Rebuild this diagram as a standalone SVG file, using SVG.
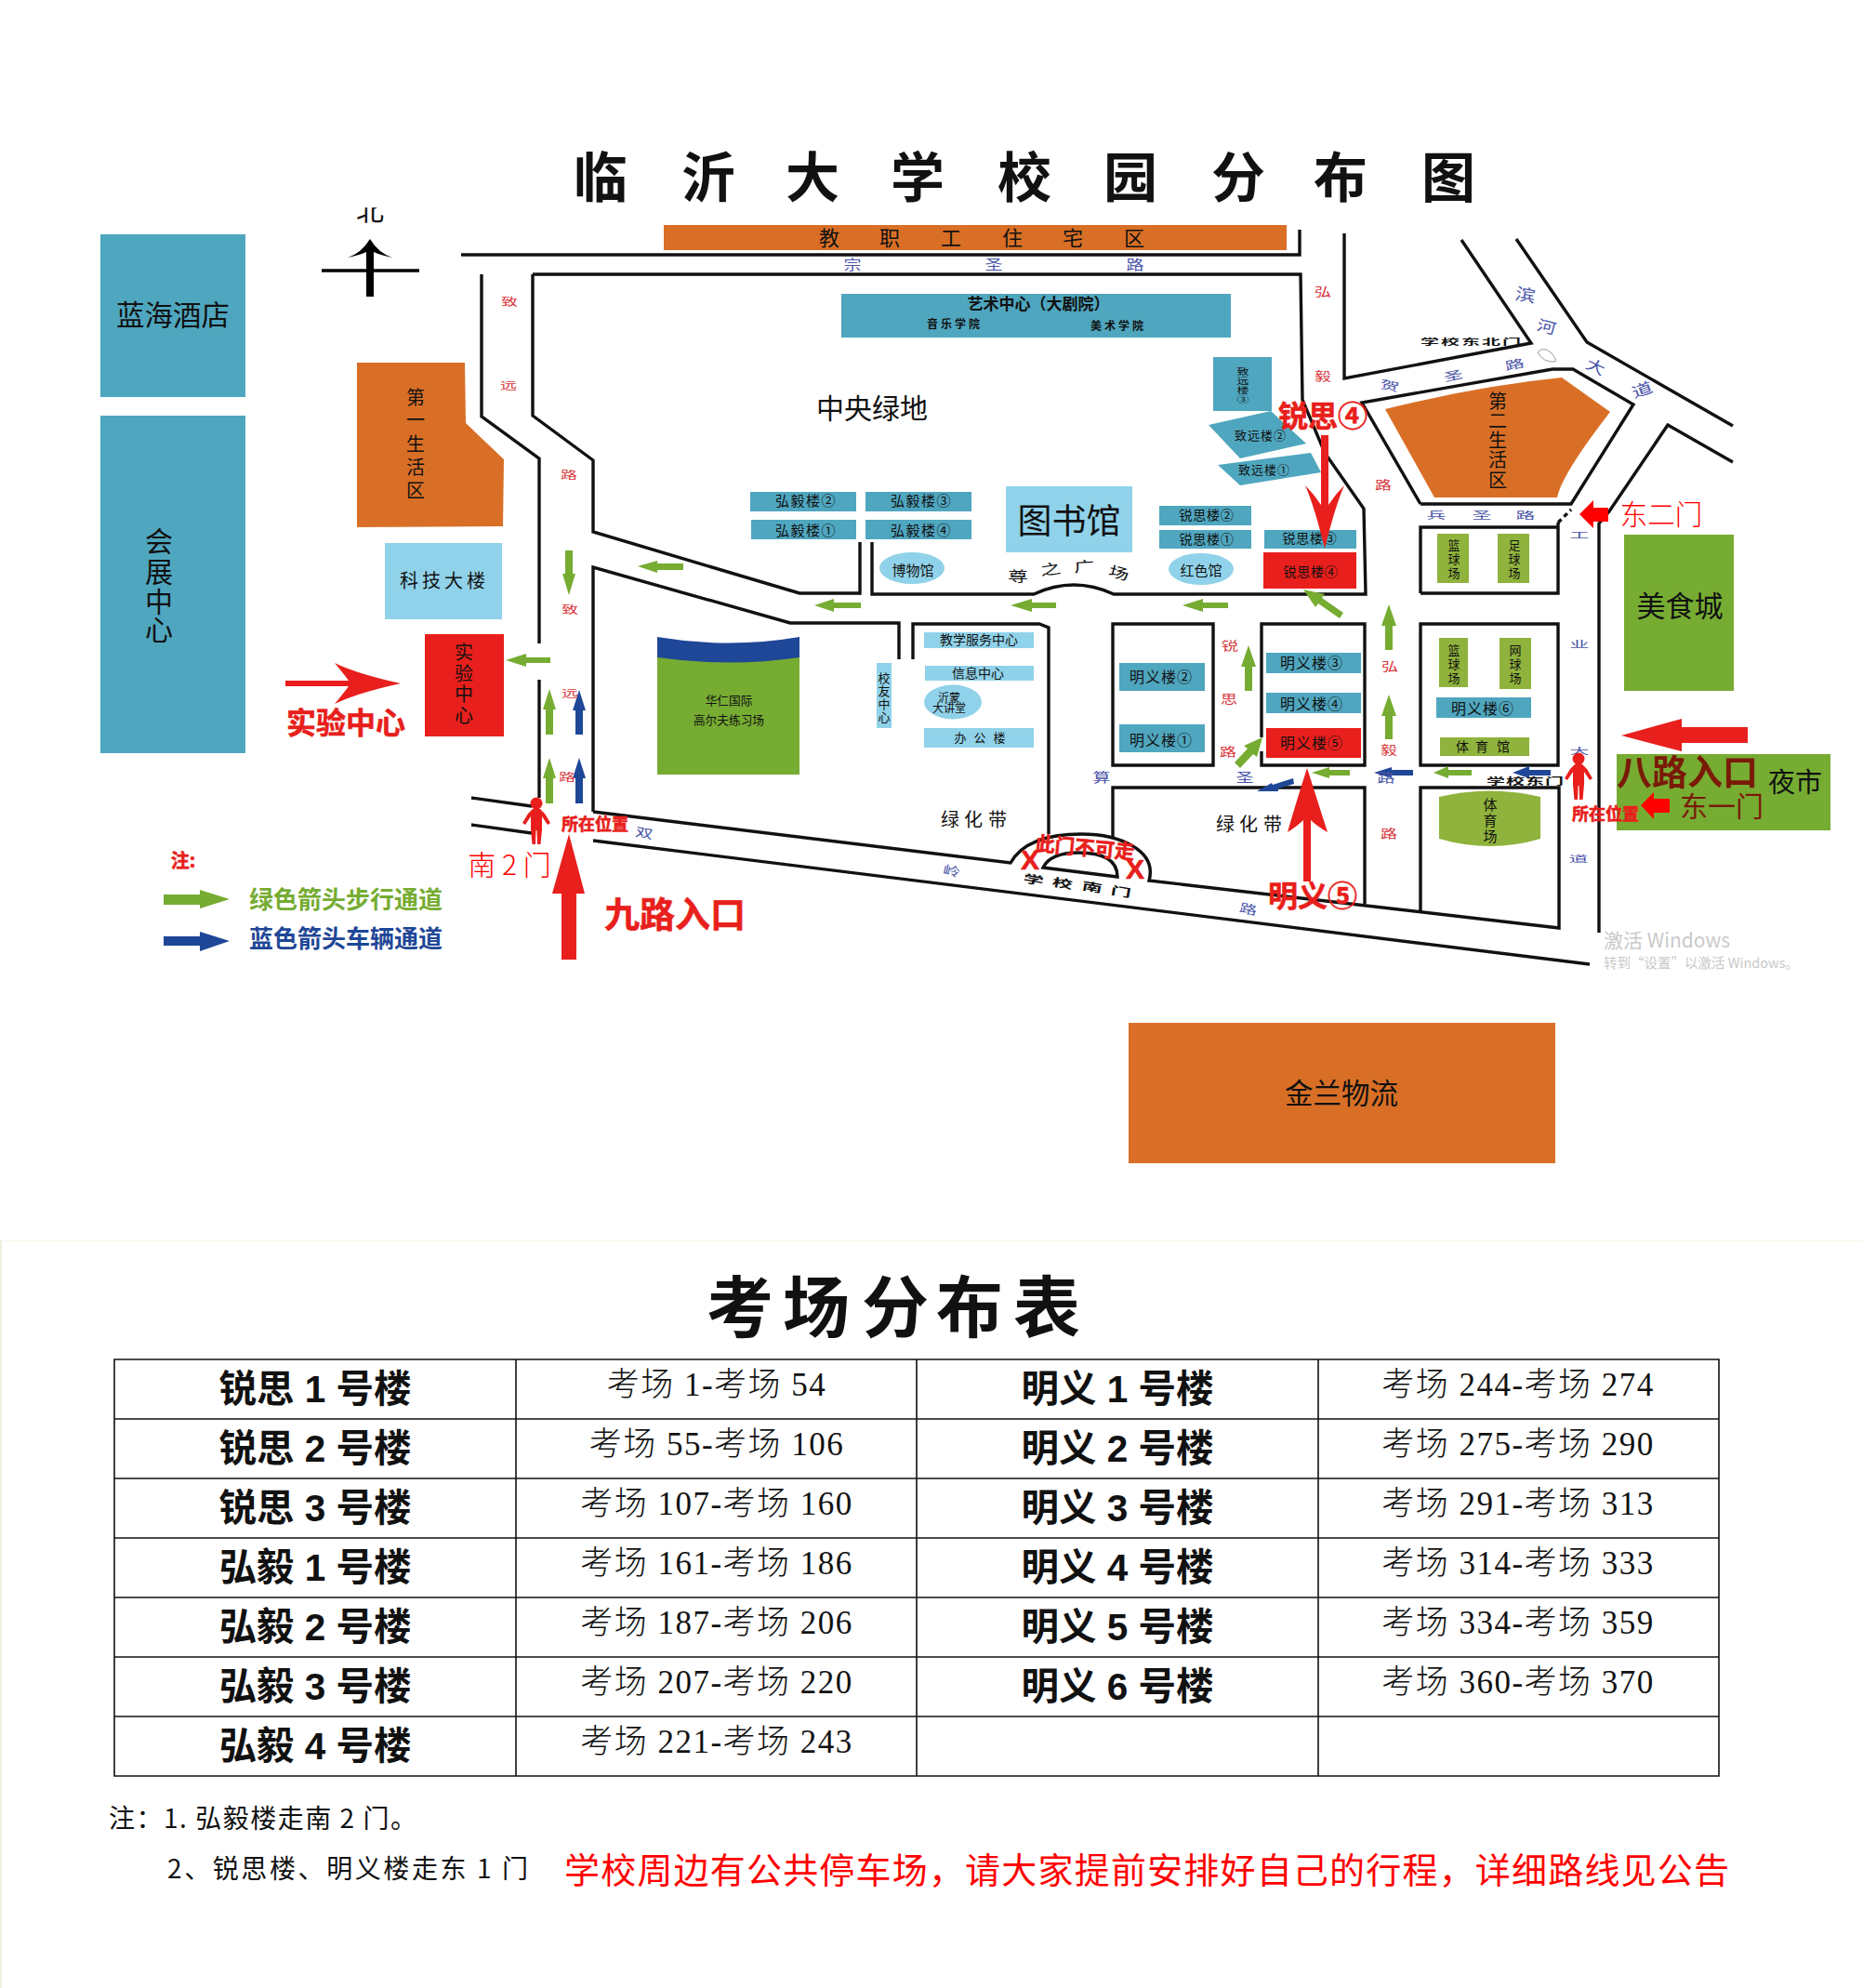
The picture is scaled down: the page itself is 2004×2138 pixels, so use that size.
<svg xmlns="http://www.w3.org/2000/svg" width="2004" height="2138" viewBox="0 0 2004 2138">
<style>
text{font-family:"Noto Sans CJK SC",sans-serif;text-anchor:middle;dominant-baseline:central;fill:#111}
text:not([transform]){transform:translateY(-.06em)}
text.nm{transform:translateY(1px)}
text.rg{transform:translateY(2px)}
.b{font-weight:700}
.l{font-weight:300}
.teal{fill:#4fa6bf}.sky{fill:#90d2e9}.org{fill:#d96f26}.grn{fill:#76ac32}.olv{fill:#8fb33c}.red{fill:#e81f1c}.blu{fill:#1f4797}
.pg{fill:#76ac32}.pb{fill:#1f4797}.pr{fill:#e81f1c}.pf{fill:#f00}
.road{fill:none;stroke:#111;stroke-width:3.4;stroke-miterlimit:6}
.tbl{stroke:#111;stroke-width:1.6;fill:none}
.rd{fill:#d8353a;font-size:18px}
.bl{fill:#4a55a8;font-size:19px}
.s13{font-size:13px}.s14{font-size:14px}.s15{font-size:15px}.s20{font-size:20px}
.hy{font-size:15px;letter-spacing:1.5px}.rs{font-size:14px;letter-spacing:.7px}.my{font-size:16px;letter-spacing:1px}.zy{font-size:13px;letter-spacing:1px}
.rr{fill:#e81f1c;font-weight:700;stroke:#e81f1c;stroke-width:.6}
.nm{font-family:"Liberation Sans","Noto Sans CJK SC",sans-serif;font-weight:700;font-size:40.5px}
.rg{font-family:"Liberation Serif","Noto Sans CJK SC",serif;font-size:35px;font-weight:300;letter-spacing:1.5px}
</style>
<defs>
<clipPath id="cn"><rect x="370" y="225" width="60" height="20"/></clipPath>
<g id="person"><circle cx="0" cy="6" r="6.5"/><path d="M-4 12Q0 10 4 12L9 17L15 27L12 29L6 20L6 34L4.5 50L1 50L.5 35L-.5 35L-1 50L-4.5 50L-6 34L-6 20L-12 29L-15 27L-9 17Z"/></g>
</defs>
<rect width="2004" height="2138" fill="#fff"/>
<path d="M0 1334.5H2004" stroke="#f6f8ec" stroke-width="1.5" fill="none"/>
<path d="M.8 1334V2138" stroke="#e6efd6" stroke-width="1.6" fill="none"/>

<g id="title"><text class="b" font-size="58" y="190" x="646 762 874 987 1102 1216 1332 1442 1558">临沂大学校园分布图</text></g>

<g id="north">
<text font-size="30" x="398" y="226" clip-path="url(#cn)">北</text>
<path d="M346 291H451" stroke="#000" stroke-width="3.5" fill="none"/>
<path d="M398 257Q407 272 422 277Q408 274 402 271V319H394V271Q388 274 374 277Q389 272 398 257Z" fill="#000"/>
</g>

<g id="hotel"><rect class="teal" x="108" y="252" width="156" height="175"/><text font-size="30.5" x="186" y="339">蓝海酒店</text></g>
<g id="expo"><rect class="teal" x="108" y="447" width="156" height="363"/><text font-size="30" x="171" y="582">会</text><text font-size="30" x="171" y="615">展</text><text font-size="30" x="171" y="647">中</text><text font-size="30" x="171" y="677">心</text></g>
<g id="housing"><rect class="org" x="714" y="242" width="670" height="27"/><text font-size="22" y="255" x="892 957 1023 1089 1154 1220">教职工住宅区</text></g>
<g id="life1"><path class="org" d="M384 390H500L501 455L542 494L541 566L384 567Z"/><text class="s20" x="447" y="428">第</text><text class="s20" x="447" y="452">一</text><text class="s20" x="447" y="478">生</text><text class="s20" x="447" y="503">活</text><text class="s20" x="447" y="528">区</text></g>
<g id="life2"><path class="org" d="M1490 440Q1590 415 1680 406L1732 443Q1680 510 1675 535H1543Z"/><text class="s20" x="1611" y="432">第</text><text class="s20" x="1611" y="453">二</text><text class="s20" x="1611" y="474">生</text><text class="s20" x="1611" y="495">活</text><text class="s20" x="1611" y="517">区</text></g>
<g id="tech"><rect class="sky" x="414" y="584" width="126" height="82"/><text class="s20" letter-spacing="4" x="478" y="625">科技大楼</text></g>
<g id="lab"><rect class="red" x="457" y="682" width="85" height="110"/><text class="s20" x="499" y="702">实</text><text class="s20" x="499" y="725">验</text><text class="s20" x="499" y="747">中</text><text class="s20" x="499" y="770">心</text></g>
<g id="art"><rect class="teal" x="905" y="316" width="419" height="47"/><text class="b" font-size="17" x="1117" y="327">艺术中心（大剧院）</text><text class="b" font-size="12" letter-spacing="3" x="1027" y="348">音乐学院</text><text class="b" font-size="12" letter-spacing="3" x="1203" y="350">美术学院</text></g>
<g id="zy3"><rect class="teal" x="1305" y="384" width="63" height="58"/><text font-size="13" transform="translate(1337 399) scale(1 .72)">致</text><text font-size="13" transform="translate(1337 409) scale(1 .72)">远</text><text font-size="13" transform="translate(1337 419) scale(1 .72)">楼</text><text font-size="13" transform="translate(1337 429) scale(1 .72)">③</text></g>
<g id="zy2"><path class="teal" d="M1300 457L1367 442L1405 477L1334 493Z"/><text class="zy" x="1356" y="468">致远楼②</text></g>
<g id="zy1"><path class="teal" d="M1310 500L1410 487L1421 508L1334 522Z"/><text class="zy" x="1360" y="505">致远楼①</text></g>
<g id="hy2"><rect class="teal" x="807" y="529" width="114" height="21"/><text class="hy" x="867" y="538">弘毅楼②</text></g>
<g id="hy3"><rect class="teal" x="931" y="529" width="114" height="21"/><text class="hy" x="991" y="538">弘毅楼③</text></g>
<g id="hy1"><rect class="teal" x="808" y="559" width="113" height="21"/><text class="hy" x="867" y="570">弘毅楼①</text></g>
<g id="hy4"><rect class="teal" x="931" y="559" width="114" height="21"/><text class="hy" x="991" y="570">弘毅楼④</text></g>
<g id="library"><rect class="sky" x="1082" y="523" width="136" height="71"/><text font-size="37" x="1150" y="560">图书馆</text></g>
<g id="rs2"><rect class="teal" x="1247" y="544" width="99" height="21"/><text class="rs" x="1298" y="554">锐思楼②</text></g>
<g id="rs1"><rect class="teal" x="1247" y="570" width="99" height="20"/><text class="rs" x="1298" y="580">锐思楼①</text></g>
<g id="rs3"><rect class="teal" x="1360" y="570" width="99" height="20"/><text class="rs" x="1409" y="579">锐思楼③</text></g>
<g id="rs4"><rect class="red" x="1359" y="594" width="100" height="39"/><text class="rs" x="1410" y="615">锐思楼④</text></g>
<g id="museum"><ellipse class="sky" cx="981" cy="611" rx="35" ry="17"/><text class="s15" x="982" y="613">博物馆</text></g>
<g id="redhall"><ellipse class="sky" cx="1292" cy="612" rx="35" ry="17"/><text class="s15" x="1292" y="613">红色馆</text></g>
<g id="golf"><path class="grn" d="M707 705H860V833H707Z"/><path class="blu" d="M707 685Q784 698 860 685V707Q784 718 707 707Z"/><text font-size="12.7" x="784" y="753">华仁国际</text><text font-size="12.7" x="784" y="774">高尔夫练习场</text></g>
<g id="teach"><rect class="sky" x="994" y="680" width="118" height="17"/><text class="s14" x="1053" y="688">教学服务中心</text></g>
<g id="info"><rect class="sky" x="995" y="716" width="117" height="16"/><text class="s14" x="1052" y="724">信息中心</text></g>
<g id="yimeng"><ellipse class="sky" cx="1025" cy="755" rx="31" ry="18.5"/><text font-size="12" x="1021" y="750">沂蒙</text><text font-size="12" x="1021" y="761">大讲堂</text></g>
<g id="office"><rect class="sky" x="994" y="783" width="118" height="21"/><text class="s13" y="793" x="1033 1054 1075">办公楼</text></g>
<g id="alumni"><rect class="sky" x="943" y="713" width="16" height="70"/><text class="s13" x="951" y="729">校</text><text class="s13" x="951" y="743">友</text><text class="s13" x="951" y="757">中</text><text class="s13" x="951" y="771">心</text></g>
<g id="my2"><rect class="teal" x="1204" y="713" width="92" height="30"/><text class="my" x="1249" y="728">明义楼②</text></g>
<g id="my1"><rect class="teal" x="1204" y="779" width="92" height="30"/><text class="my" x="1249" y="796">明义楼①</text></g>
<g id="my3"><rect class="teal" x="1362" y="702" width="102" height="22"/><text class="my" x="1411" y="713">明义楼③</text></g>
<g id="my4"><rect class="teal" x="1362" y="745" width="102" height="22"/><text class="my" x="1411" y="757">明义楼④</text></g>
<g id="my5"><rect class="red" x="1362" y="783" width="102" height="32"/><text class="my" x="1411" y="799">明义楼⑤</text></g>
<g id="my6"><rect class="teal" x="1545" y="750" width="102" height="22"/><text class="my" x="1595" y="762">明义楼⑥</text></g>
<g id="court1"><rect class="olv" x="1546" y="574" width="34" height="53"/><text class="s13" x="1564" y="586">篮</text><text class="s13" x="1564" y="601">球</text><text class="s13" x="1564" y="616">场</text></g>
<g id="court2"><rect class="olv" x="1611" y="574" width="34" height="53"/><text class="s13" x="1629" y="586">足</text><text class="s13" x="1629" y="601">球</text><text class="s13" x="1629" y="616">场</text></g>
<g id="court3"><rect class="olv" x="1548" y="686" width="31" height="53"/><text class="s13" x="1564" y="699">篮</text><text class="s13" x="1564" y="714">球</text><text class="s13" x="1564" y="729">场</text></g>
<g id="court4"><rect class="olv" x="1613" y="686" width="34" height="55"/><text class="s13" x="1630" y="699">网</text><text class="s13" x="1630" y="714">球</text><text class="s13" x="1630" y="729">场</text></g>
<g id="gym"><rect class="olv" x="1549" y="793" width="96" height="20"/><text class="s14" y="803" x="1573 1594 1617">体育馆</text></g>
<g id="stadium"><path class="olv" d="M1548 857Q1603 844 1657 857V902Q1603 918 1548 902Z"/><text class="s15" x="1603" y="865">体</text><text class="s15" x="1603" y="882">育</text><text class="s15" x="1603" y="899">场</text></g>
<g id="food"><rect class="grn" x="1747" y="575" width="118" height="168"/><text font-size="31" x="1807" y="651">美食城</text></g>
<g id="night"><rect class="grn" x="1739" y="811" width="230" height="82"/><text class="b" font-size="38" x="1815" y="830" style="fill:#7a1a08">八路入口</text><text font-size="29" x="1931" y="841">夜市</text><text font-size="30" x="1852" y="867" style="fill:#7a1a08">东一门</text></g>
<g id="jinlan"><rect class="org" x="1214" y="1100" width="459" height="151"/><text font-size="30.5" x="1443" y="1176">金兰物流</text></g>

<g id="connectors">
<g class="roads">
<path class="road" d="M496 274H1398V247"/>
<path class="road" d="M573 295H1399L1401 430L1425 487L1467 547L1469 639H1198Q1155 619 1112 639H938V583"/>
<path class="road" d="M573 295V447L638 495V572L860 638H925V583"/>
<path class="road" d="M518 295V448L580 493V692M580 731V858"/>
<path class="road" d="M638 873V610L850 670H967V709"/>
<path class="road" d="M638 873L1087 928C1100 905 1130 897 1163 897C1205 897 1245 915 1236 947L1677 998V847H1528V981"/>
<path class="road" d="M982 709V671H1118L1128 675V897"/>
<path class="road" d="M1197 902V847H1468V972"/>
<path class="road" d="M1122 933Q1130 917 1160 917Q1202 917 1202 943Z"/>
<path class="road" d="M638 904L1710 1037M507 858L572 867M507 887L572 896"/>
<path class="road" d="M1197 671H1305V823H1197Z"/>
<path class="road" d="M1357 793V671H1468V823H1357V808"/>
<path class="road" d="M1528 638V567H1676M1528 638H1676V562M1528 671H1676V823H1528Z"/>
<path class="road" d="M1446 251V407L1647 369L1572 258"/>
<path class="road" d="M1528 542L1465 433L1670 397H1692L1757 435L1690 542H1528"/>
<path class="road" d="M1631 257L1707 368L1864 458M1864 497L1794 457L1731 550L1720 563V1003"/>
<path class="road" d="M1676 562L1690 548" stroke-dasharray="5 4"/>
<path d="M1654 379Q1660 372 1668 379Q1675 386 1673 389Q1660 390 1654 379Z" fill="none" stroke="#999" stroke-width="1"/>
</g>
<g class="arrows">
<polygon class="pg" points="686,609 707,603 707,606 735,606 735,613 707,613 707,616"/>
<polygon class="pg" points="876,651 897,644 897,648 926,648 926,654 897,654 897,658"/>
<polygon class="pg" points="1087,651 1110,644 1110,648 1136,648 1136,654 1110,654 1110,658"/>
<polygon class="pg" points="1272,651 1294,644 1294,648 1321,648 1321,654 1294,654 1294,658"/>
<polygon class="pg" points="544,710 566,703 566,707 592,707 592,713 566,713 566,717"/>
<polygon class="pg" points="1411,831 1430,825 1430,828 1452,828 1452,834 1430,834 1430,837"/>
<polygon class="pg" points="1542,831 1558,824 1558,828 1583,828 1583,834 1558,834 1558,837"/>
<polygon class="pb" points="1627,831 1645,824 1645,828 1668,828 1668,834 1645,834 1645,837"/>
<polygon class="pb" points="1478,831 1497,825 1497,828 1520,828 1520,834 1497,834 1497,837"/>
<polygon class="pg" points="612,640 605,617 608,617 608,592 616,592 616,617 619,617"/>
<polygon class="pg" points="591,741 598,763 595,763 595,790 587,790 587,763 584,763"/>
<polygon class="pg" points="591,815 598,837 595,837 595,864 587,864 587,837 584,837"/>
<polygon class="pb" points="623,742 630,764 627,764 627,790 619,790 619,764 616,764"/>
<polygon class="pb" points="623,815 630,837 627,837 627,864 619,864 619,837 616,837"/>
<polygon class="pg" points="1343,694 1351,717 1347,717 1347,743 1339,743 1339,717 1335,717"/>
<polygon class="pg" points="1494,650 1502,673 1498,673 1498,699 1490,699 1490,673 1486,673"/>
<polygon class="pg" points="1494,747 1502,770 1498,770 1498,795 1490,795 1490,770 1486,770"/>
<polygon class="pg" points="1402,634 1425,639 1422,643 1445,659 1441,665 1418,649 1415,653"/>
<polygon class="pg" points="1358,793 1352,814 1348,811 1334,826 1328,820 1342,805 1338,802"/>
<polygon class="pb" points="1352,851 1368,842 1369,844 1391,837 1392,843 1375,848 1375,851"/>
<polygon class="pf" points="1699,553 1714,538 1714,546 1730,546 1730,561 1714,561 1714,568"/>
<polygon class="pf" points="1765,866 1779,852 1779,859 1796,859 1796,874 1779,874 1779,881"/>
<polygon class="pr" points="1744,791 1809,773 1809,782 1880,782 1880,799 1809,799 1809,808"/>
<path class="pr" d="M431 735Q385 725 360 713Q370 725 375 732H307V738H375Q370 745 360 757Q385 745 431 735Z"/>
<polygon class="pr" points="612,897 629,961 620,961 620,1032 604,1032 604,961 594,961"/>
<path class="pr" d="M1406 826Q1420 870 1428 895Q1416 888 1410 882V948H1402V882Q1396 888 1385 895Q1392 870 1406 826Z"/>
<path class="pr" d="M1425 590Q1414 545 1404 522Q1414 532 1421 543V468H1429V543Q1436 532 1446 522Q1436 545 1425 590Z"/>
<polygon class="pg" points="247,967 215,957 215,962 176,962 176,973 215,973 215,977"/>
<polygon class="pb" points="247,1012 215,1002 215,1007 176,1007 176,1017 215,1017 215,1023"/>
</g>
</g>

<g id="persons">
<use href="#person" x="577" y="858" fill="#e81f1c"/>
<use href="#person" x="1698" y="810" fill="#e81f1c"/>
</g>

<g id="road-labels">
<text class="bl" transform="translate(917 284) scale(1 .75)">宗</text><text class="bl" transform="translate(1069 284) scale(1 .75)">圣</text><text class="bl" transform="translate(1221 284) scale(1 .75)">路</text>
<text class="rd" transform="translate(1423 312) scale(1 .7)">弘</text><text class="rd" transform="translate(1423 403) scale(1 .7)">毅</text><text class="rd" transform="translate(1488 520) scale(1 .7)">路</text>
<text class="rd" transform="translate(548 324) scale(1 .65)">致</text><text class="rd" transform="translate(547 414) scale(1 .65)">远</text><text class="rd" transform="translate(612 510) scale(1 .65)">路</text>
<text class="rd" transform="translate(613 655) scale(1 .65)">致</text><text class="rd" transform="translate(613 745) scale(1 .65)">远</text><text class="rd" transform="translate(610 835) scale(1 .65)">路</text>
<text class="rd" transform="translate(1323 693) scale(1 .7)">锐</text><text class="rd" transform="translate(1322 750) scale(1 .7)">思</text><text class="rd" transform="translate(1321 807) scale(1 .7)">路</text>
<text class="rd" transform="translate(1495 715) scale(1 .7)">弘</text><text class="rd" transform="translate(1494 805) scale(1 .7)">毅</text><text class="rd" transform="translate(1494 895) scale(1 .7)">路</text>
<text class="bl" transform="translate(1185 835) scale(1 .7)">算</text><text class="bl" transform="translate(1339 835) scale(1 .7)">圣</text><text class="bl" transform="translate(1491 835) scale(1 .7)">路</text>
<text font-size="18" transform="translate(1095 619) scale(1.2 .8)">尊</text><text font-size="22" transform="translate(1130 611) rotate(-8) scale(1 .7)">之</text><text font-size="22" transform="translate(1166 608) rotate(-3) scale(1 .7)">广</text><text font-size="22" transform="translate(1204 615) rotate(15) scale(1 .7)">场</text>
<text class="s20" y="882" x="1022 1047 1073">绿化带</text><text class="s20" y="887" x="1318 1343 1369">绿化带</text>
<text class="bl" transform="translate(693 895) rotate(10) scale(1 .7)">双</text><text class="bl" transform="translate(1024 936) rotate(12) scale(1 .7)">岭</text><text class="bl" transform="translate(1343 977) rotate(12) scale(1 .7)">路</text>
<text class="bl" transform="translate(1641 316) rotate(10) scale(1.15 .95)">滨</text><text class="bl" transform="translate(1664 350) rotate(15) scale(1.1 .85)">河</text><text class="bl" transform="translate(1717 393) rotate(25) scale(1.1 .85)">大</text><text class="bl" transform="translate(1766 418) rotate(-20) scale(1.2 .85)">道</text>
<text class="bl" transform="translate(1495 414) rotate(12) scale(1.1 .65)">贺</text><text class="bl" transform="translate(1563 403) rotate(-12) scale(1.1 .65)">圣</text><text class="bl" transform="translate(1629 391) rotate(-12) scale(1.1 .65)">路</text>
<text class="bl" transform="translate(1545 554) scale(1.1 .55)">兵</text><text class="bl" transform="translate(1594 554) scale(1.1 .55)">圣</text><text class="bl" transform="translate(1641 554) scale(1.1 .55)">路</text>
<text class="bl" transform="translate(1699 575) scale(1.1 .5)">工</text><text class="bl" transform="translate(1699 692) scale(1.1 .5)">业</text><text class="bl" transform="translate(1699 807) scale(1.1 .5)">大</text><text class="bl" transform="translate(1698 923) scale(1.1 .5)">道</text>
<text class="b" font-size="20" letter-spacing="2" transform="translate(1583 367) scale(1 .45)">学校东北门</text>
<text class="b" font-size="20" letter-spacing="1" transform="translate(1641 840) scale(1 .5)">学校东门</text>
<text class="b" font-size="22" transform="translate(1112 945) rotate(10) scale(1 .55)">学</text><text class="b" font-size="22" transform="translate(1143 949) rotate(10) scale(1 .55)">校</text><text class="b" font-size="22" transform="translate(1175 953) rotate(10) scale(1 .55)">南</text><text class="b" font-size="22" transform="translate(1206 958) rotate(10) scale(1 .55)">门</text>
</g>

<g id="callouts">
<text font-size="30" x="878" y="439" style="text-anchor:start">中央绿地</text>
<text class="rr" font-size="32" x="372" y="777">实验中心</text>
<text class="rr" font-size="38" x="726" y="983">九路入口</text>
<text class="l" font-size="30" x="548" y="930" style="fill:#f00">南 2 门</text>
<text class="rr" font-size="18" x="640" y="886">所在位置</text>
<text class="rr" font-size="18" x="1727" y="875">所在位置</text>
<text class="l" font-size="29.5" x="1787" y="553" style="fill:#f00">东二门</text>
<text class="rr" font-size="32" x="1423" y="447">锐思④</text>
<text class="rr" font-size="32" x="1412" y="963">明义⑤</text>
<text class="rr" font-size="21.5" transform="translate(1167 910) rotate(5)">此门不可走</text>
<text class="rr" font-size="30" x="1108" y="926" style="font-family:'Liberation Sans',sans-serif">X</text>
<text class="rr" font-size="30" x="1221" y="936" style="font-family:'Liberation Sans',sans-serif">X</text>
<text class="rr" font-size="20" x="197" y="926">注:</text>
<text class="b" font-size="26" x="372" y="967" style="fill:#76ac32">绿色箭头步行通道</text>
<text class="b" font-size="26" x="372" y="1009" style="fill:#1f4797">蓝色箭头车辆通道</text>
<text font-size="21" x="1725" y="1011" style="fill:#c9c9c9;text-anchor:start">激活 Windows</text>
<text font-size="14.5" x="1725" y="1035" style="fill:#c9c9c9;text-anchor:start">转到“设置”以激活 Windows。</text>
</g>

<g id="exam-title"><text class="b" font-size="72" y="1405" x="796 878 963 1043 1126">考场分布表</text></g>
<g id="exam-table">
<path class="tbl" d="M123 1462H1849V1910H123ZM123 1526H1849M123 1590H1849M123 1654H1849M123 1718H1849M123 1782H1849M123 1846H1849M555 1462V1910M986 1462V1910M1418 1462V1910"/>
<g class="names">
<text class="nm" x="339" y="1493">锐思 1 号楼</text><text class="nm" x="339" y="1557">锐思 2 号楼</text><text class="nm" x="339" y="1621">锐思 3 号楼</text><text class="nm" x="339" y="1685">弘毅 1 号楼</text><text class="nm" x="339" y="1749">弘毅 2 号楼</text><text class="nm" x="339" y="1813">弘毅 3 号楼</text><text class="nm" x="339" y="1877">弘毅 4 号楼</text>
<text class="nm" x="1202" y="1493">明义 1 号楼</text><text class="nm" x="1202" y="1557">明义 2 号楼</text><text class="nm" x="1202" y="1621">明义 3 号楼</text><text class="nm" x="1202" y="1685">明义 4 号楼</text><text class="nm" x="1202" y="1749">明义 5 号楼</text><text class="nm" x="1202" y="1813">明义 6 号楼</text>
</g>
<text class="rg" x="771" y="1487">考场 1-考场 54</text><text class="rg" x="771" y="1551">考场 55-考场 106</text><text class="rg" x="771" y="1615">考场 107-考场 160</text><text class="rg" x="771" y="1679">考场 161-考场 186</text><text class="rg" x="771" y="1743">考场 187-考场 206</text><text class="rg" x="771" y="1807">考场 207-考场 220</text><text class="rg" x="771" y="1871">考场 221-考场 243</text>
<text class="rg" x="1633" y="1487">考场 244-考场 274</text><text class="rg" x="1633" y="1551">考场 275-考场 290</text><text class="rg" x="1633" y="1615">考场 291-考场 313</text><text class="rg" x="1633" y="1679">考场 314-考场 333</text><text class="rg" x="1633" y="1743">考场 334-考场 359</text><text class="rg" x="1633" y="1807">考场 360-考场 370</text>
</g>
<g id="notes">
<text font-size="28" x="117" y="1956" textLength="331" style="text-anchor:start">注：1. 弘毅楼走南 2 门。</text>
<text font-size="28" x="180" y="2010" textLength="388" style="text-anchor:start">2、锐思楼、明义楼走东 1 门</text>
<text font-size="38" x="607" y="2011" textLength="1253" style="text-anchor:start;fill:#f00">学校周边有公共停车场，请大家提前安排好自己的行程，详细路线见公告</text>
</g>
</svg>
